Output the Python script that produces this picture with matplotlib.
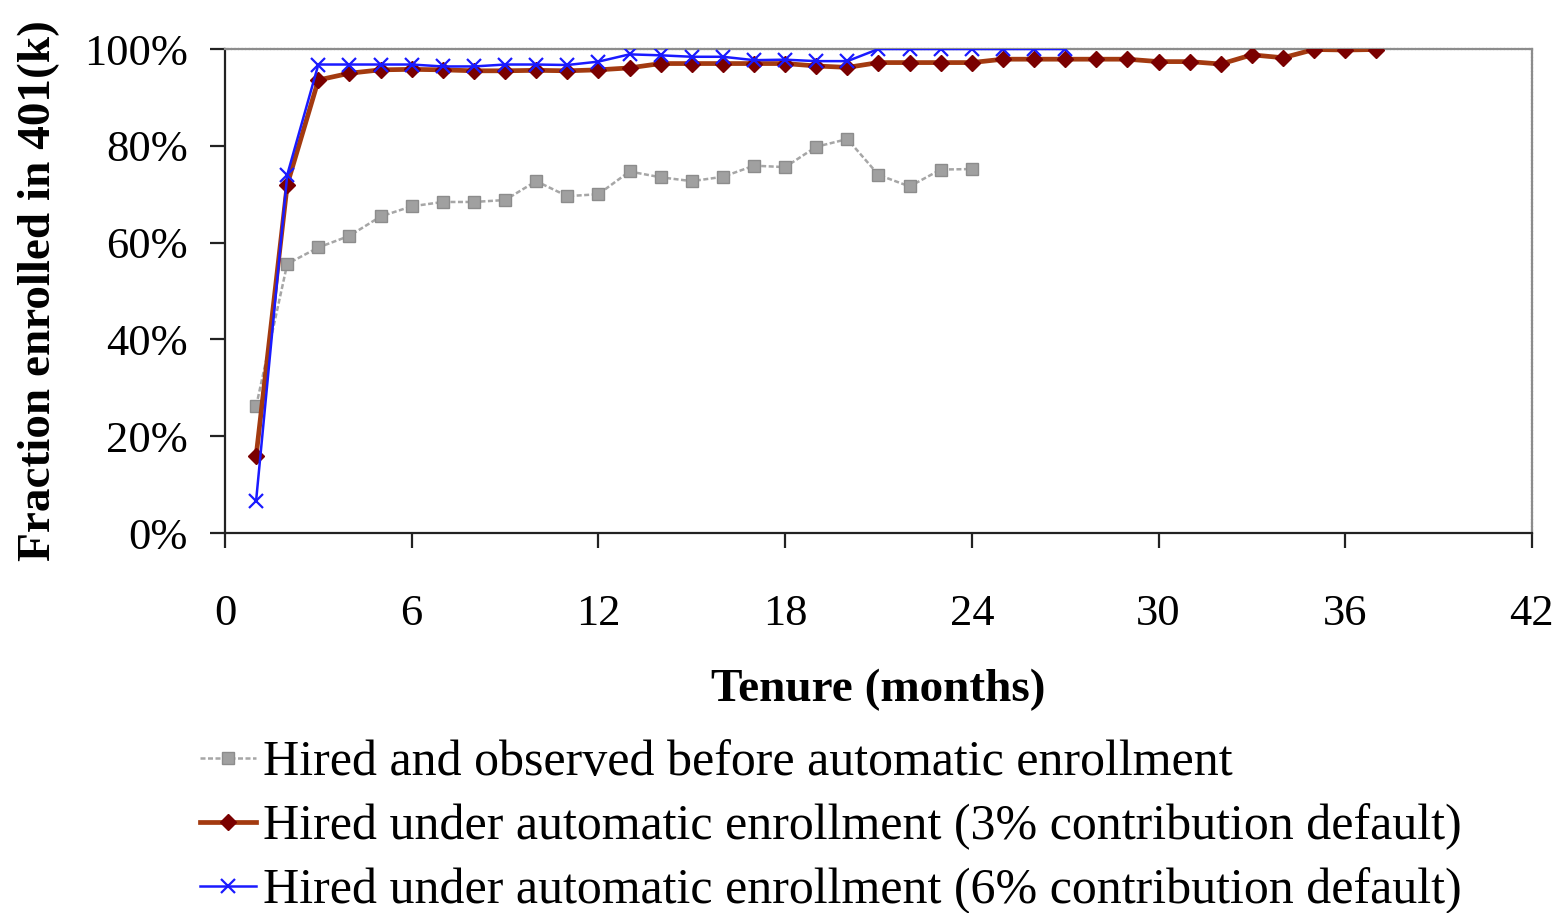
import numpy as np
import matplotlib
matplotlib.use("Agg")
import matplotlib.pyplot as plt
from matplotlib.ticker import FuncFormatter

plt.rcParams['font.family'] = ['Liberation Serif', 'DejaVu Serif']

# fraction enrolled (%) by tenure month
months_before = list(range(1, 25))
enrolled_before = [26.2, 55.6, 59.0, 61.4, 65.4, 67.5, 68.4, 68.4, 68.8, 72.7,
                   69.6, 70.0, 74.7, 73.5, 72.7, 73.6, 75.9, 75.6, 79.8, 81.4,
                   74.0, 71.6, 75.1, 75.2]

months_3pct = list(range(1, 38))
enrolled_3pct = [15.9, 72.0, 93.6, 95.0, 95.7, 95.8, 95.7, 95.5, 95.5, 95.6,
                 95.5, 95.7, 96.1, 97.0, 97.0, 97.0, 97.0, 97.0, 96.5, 96.2,
                 97.2, 97.2, 97.2, 97.2, 97.9, 97.9, 97.9, 97.9, 97.9, 97.4,
                 97.4, 96.9, 98.8, 98.2, 99.9, 99.8, 99.9]

months_6pct = list(range(1, 28))
enrolled_6pct = [6.7, 74.0, 96.8, 96.8, 96.8, 96.8, 96.4, 96.4, 96.8, 96.8,
                 96.7, 97.4, 98.9, 98.7, 98.4, 98.4, 97.7, 97.8, 97.5, 97.5,
                 100.0, 100.0, 100.0, 100.0, 100.0, 100.0, 100.0]

labels = ["Hired and observed before automatic enrollment",
          "Hired under automatic enrollment (3% contribution default)",
          "Hired under automatic enrollment (6% contribution default)"]

xticks = [0, 6, 12, 18, 24, 30, 36, 42]
yticks = [0, 20, 40, 60, 80, 100]

fig = plt.figure(figsize=(15.68, 9.13), dpi=100)
ax = fig.add_axes([0.1435, 0.4162, 0.8335, 0.5301])

ax.plot(months_before, enrolled_before, color='#a6a6a6', lw=1.8, ls=(0, (2, 1)),
        marker='s', ms=8, mfc='#a0a0a0', mec='#8c8c8c', label=labels[0], zorder=2)
ax.plot(months_3pct, enrolled_3pct, color='#a33a10', lw=3.4,
        marker='D', ms=8, mfc='#7a0000', mec='#7a0000', label=labels[1], zorder=3)
ax.plot(months_6pct, enrolled_6pct, color='#1a1aff', lw=1.8,
        marker='x', ms=10, mew=1.6, mec='#1a1aff', label=labels[2], zorder=4)

ax.set_xlim(0, 42)
ax.set_ylim(0, 100)
ax.set_xticks(xticks)
ax.set_yticks(yticks)
ax.yaxis.set_major_formatter(FuncFormatter(lambda v, p: "%d%%" % v))

for s in ['top', 'right']:
    ax.spines[s].set_color('#8c8c8c')
    ax.spines[s].set_linewidth(1.6)
    ax.spines[s].set_linestyle((0, (1, 0.6)))
for s in ['left', 'bottom']:
    ax.spines[s].set_color('#222222')
    ax.spines[s].set_linewidth(1.6)

ax.tick_params(axis='both', direction='out', length=11, width=1.6, color='#222222',
               labelsize=32)
ax.tick_params(axis='y', pad=16)
ax.tick_params(axis='x', pad=33)

ax.set_ylabel("Fraction enrolled in 401(k)", fontsize=34, fontweight='bold')
ax.yaxis.set_label_coords(-0.126, 0.5)
ax.set_xlabel("Tenure (months)", fontsize=34, fontweight='bold')
ax.xaxis.set_label_coords(0.5, -0.28)

fig.legend(loc='upper left', bbox_to_anchor=(0.1276, 0.1895), frameon=False,
           fontsize=36, handlelength=1.12, handletextpad=0.14, labelspacing=0.34,
           borderaxespad=0, borderpad=0)

fig.savefig("out.png", dpi=100)
